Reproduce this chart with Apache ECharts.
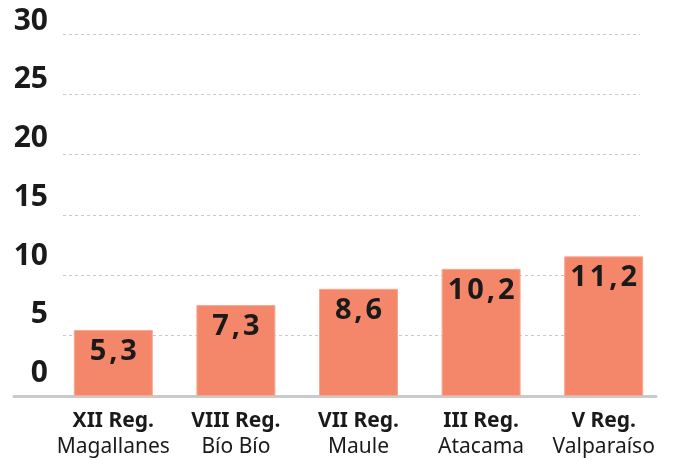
<!DOCTYPE html>
<html>
<head>
<meta charset="utf-8">
<script src="https://cdn.jsdelivr.net/npm/echarts@6/dist/echarts.min.js"></script>
<style>
  html, body { margin: 0; padding: 0; background: #fff; }
  #chart { width: 675px; height: 460px; }
</style>
</head>
<body>
<div id="chart"></div>
<script>
const regions = ["XII Reg.", "VIII Reg.", "VII Reg.", "III Reg.", "V Reg."];
const names = ["Magallanes", "Bío Bío", "Maule", "Atacama", "Valparaíso"];
const values = [5.3, 7.3, 8.6, 10.2, 11.2];

const FONT = "Noto Sans";
const gridBottom = 64;

const chart = echarts.init(document.getElementById("chart"));

const yBase = { type: "value", min: 0, max: 30, interval: 5 };
const hidden = {
  axisLine: { show: false }, axisTick: { show: false },
  axisLabel: { show: false }, splitLine: { show: false }
};

chart.setOption({
  animation: false,
  grid: [
    { left: 52, right: 10, top: 22, bottom: gridBottom },     // bars
    { left: 14, right: 19, top: 34, bottom: gridBottom },     // base line
    { left: 63, right: 35, top: 34, bottom: gridBottom },     // dashed gridlines
    { left: 63, right: 35, top: 21, bottom: 86.5 }            // y labels
  ],
  xAxis: [
    {
      type: "category", gridIndex: 0,
      data: regions.map((r, i) => r + "\n" + names[i]),
      axisLine: { show: false },
      axisTick: { show: false },
      axisLabel: {
        margin: 12,
        formatter: v => {
          const [a, b] = v.split("\n");
          return "{b|" + a + "}\n{n|" + b + "}";
        },
        rich: {
          b: { fontFamily: FONT, fontWeight: "bold", fontSize: 21, color: "#1a1a1a", lineHeight: 26 },
          n: { fontFamily: FONT, fontSize: 21, color: "#1a1a1a", lineHeight: 26 }
        }
      }
    },
    Object.assign({ type: "value", gridIndex: 1, min: 0, max: 1 }, hidden, {
      axisLine: { show: true, lineStyle: { color: "#c9cbcb", width: 3 } }
    }),
    Object.assign({ type: "value", gridIndex: 2, min: 0, max: 1 }, hidden),
    Object.assign({ type: "value", gridIndex: 3, min: 0, max: 1 }, hidden)
  ],
  yAxis: [
    Object.assign({}, yBase, { gridIndex: 0 }, hidden),
    Object.assign({}, yBase, { gridIndex: 1 }, hidden),
    Object.assign({}, yBase, { gridIndex: 2 }, hidden, {
      splitLine: {
        show: true,
        lineStyle: { color: "#c8c8c8", type: [3, 3], width: 1 }
      }
    }),
    Object.assign({}, yBase, { gridIndex: 3 }, hidden, {
      axisLabel: {
        show: true,
        margin: 15,
        fontFamily: FONT, fontWeight: "bold", fontSize: 30, color: "#1a1a1a",
        verticalAlign: "middle"
      }
    })
  ],
  series: [
    {
      type: "bar",
      xAxisIndex: 0, yAxisIndex: 0,
      data: values,
      barWidth: 79,
      itemStyle: { color: "#f4876a", borderColor: "#f8a892", borderWidth: 1 },
      label: {
        show: true,
        position: "insideTop",
        distance: 7,
        fontFamily: FONT, fontWeight: "bold", fontSize: 29, color: "#1a1a1a",
        formatter: p => String(p.value).replace(".", ",").split("").join("\u200a")
      }
    }
  ]
});
</script>
</body>
</html>
